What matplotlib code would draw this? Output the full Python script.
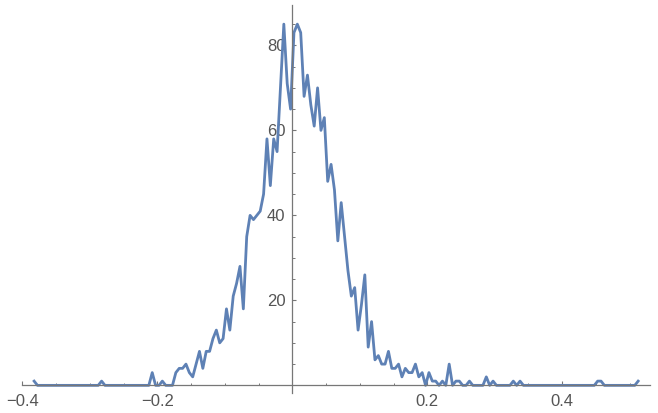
import numpy as np
import matplotlib
matplotlib.use('Agg')
import matplotlib.pyplot as plt
from matplotlib.ticker import MultipleLocator, FixedLocator

# bin centres start at -0.3825, width 0.005
x_start = -0.3825
bin_width = 0.005

# counts, one per bin
counts = [
    1, 0, 0, 0, 0, 0, 0, 0, 0, 0,        # 0-9
    0, 0, 0, 0, 0, 0, 0, 0, 0, 0,        # 10-19
    1, 0, 0, 0, 0, 0, 0, 0, 0, 0,        # 20-29
    0, 0, 0, 0, 0, 3, 0, 0, 1, 0,        # 30-39
    0, 0, 3, 4, 4, 5, 3, 2, 5, 8,        # 40-49
    4, 8, 8, 11, 13, 10, 11, 18, 13, 21,  # 50-59
    24, 28, 18, 35, 40, 39, 40, 41, 45, 58,  # 60-69
    47, 58, 55, 70, 85, 71, 65, 83, 85, 83,  # 70-79
    68, 73, 66, 61, 70, 60, 63, 48, 52, 46,  # 80-89
    34, 43, 35, 27, 21, 23, 13, 19, 26, 9,   # 90-99
    15, 6, 7, 5, 5, 8, 4, 4, 5, 2,       # 100-109
    4, 3, 3, 5, 2, 3, 0, 3, 1, 1,        # 110-119
    0, 1, 0, 5, 0, 1, 1, 0, 0, 1,        # 120-129
    0, 0, 0, 0, 2, 0, 1, 0, 0, 0,        # 130-139
    0, 0, 1, 0, 1, 0, 0, 0, 0, 0,        # 140-149
    0, 0, 0, 0, 0, 0, 0, 0, 0, 0,        # 150-159
    0, 0, 0, 0, 0, 0, 0, 1, 1, 0,        # 160-169
    0, 0, 0, 0, 0, 0, 0, 0, 0, 1,        # 170-179
]
centres = x_start + bin_width * np.arange(len(counts))

x_ticks = [-0.4, -0.2, 0.2, 0.4]
y_ticks = [20, 40, 60, 80]

plt.rcParams['font.family'] = ['Liberation Sans', 'DejaVu Sans']

fig = plt.figure(figsize=(6.58, 4.13), dpi=100)
ax = fig.add_axes([0.0339, 0.0484, 0.9539, 0.9395])

ax.plot(centres, counts, color='#5E81B5', linewidth=2.0, solid_joinstyle='round')

ax.set_xlim(-0.4, 0.53)
ax.set_ylim(-1.8, 89.5)

# axes crossing at the origin
axis_color = '#777777'
for side in ['top', 'right']:
    ax.spines[side].set_visible(False)
ax.spines['left'].set_position(('data', 0))
ax.spines['bottom'].set_position(('data', 0))
ax.spines['left'].set_color(axis_color)
ax.spines['bottom'].set_color(axis_color)
ax.spines['left'].set_linewidth(0.9)
ax.spines['bottom'].set_linewidth(0.9)

ax.xaxis.set_major_locator(FixedLocator(x_ticks))
ax.xaxis.set_minor_locator(MultipleLocator(0.05))
ax.yaxis.set_major_locator(FixedLocator(y_ticks))
ax.yaxis.set_minor_locator(MultipleLocator(5))
ax.set_xticklabels([f'{v:g}'.replace('-', '\u2212') for v in x_ticks])
ax.set_yticklabels([str(v) for v in y_ticks])

ax.tick_params(axis='both', which='both', direction='in', color=axis_color,
               labelcolor='#555555', labelsize=12)
ax.tick_params(axis='both', which='major', length=3.0, width=0.8)
ax.tick_params(axis='both', which='minor', length=1.8, width=0.7)
ax.tick_params(axis='x', pad=6)
ax.tick_params(axis='y', pad=5)

fig.savefig('out.png', dpi=100)
